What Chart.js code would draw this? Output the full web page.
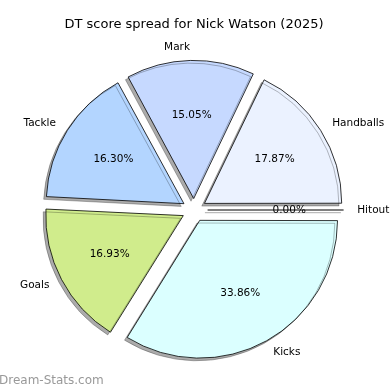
<!DOCTYPE html>
<html>
<head>
<meta charset="utf-8">
<script src="https://cdn.jsdelivr.net/npm/chart.js@4"></script>
<style>
 html, body { margin: 0; padding: 0; background: #fff; }
 canvas { display: block; }
</style>
</head>
<body>
<canvas id="pie" width="390" height="390"></canvas>
<script>
// values in matplotlib order (counter-clockwise from 3 o'clock)
const categories = ["Handballs", "Mark", "Tackle", "Goals", "Kicks", "Hitout"];
const shares = [17.87, 15.05, 16.30, 16.93, 33.86, 0];
const sliceColors = ["#ebf2ff", "#c6d9ff", "#b3d5ff", "#d0ec8c", "#dbffff", "#dbeeff"];

const RADIUS = 136;
const EXPLODE = 0.1 * RADIUS;

// chart.js draws clockwise, so reverse to get the ccw look
const labels = categories.slice().reverse();
const values = shares.slice().reverse();
const colors = sliceColors.slice().reverse();
const total = values.reduce((a, b) => a + b, 0);

// arc offset is shifted by offset/4*(1+fix), undo that so each slice moves EXPLODE px
function sliceOffset(ctx) {
 const circ = (ctx.dataset.data[ctx.dataIndex] / total) * Math.PI * 2;
 const fix = 1 - Math.sin(Math.min(Math.PI, circ));
 return (EXPLODE * 4) / (1 + fix);
}

const pieDecor = {
 id: "pieDecor",
 beforeDatasetsDraw(chart) {
  const ctx = chart.ctx;
  ctx.save();
  ctx.shadowColor = "rgba(0,0,0,0.33)";
  ctx.shadowOffsetX = -2.7;
  ctx.shadowOffsetY = 2.7;
  ctx.shadowBlur = 0;
 },
 afterDatasetsDraw(chart) {
  const ctx = chart.ctx;
  const arcs = chart.getDatasetMeta(0).data;

  // zero slices are skipped by chart.js, matplotlib still strokes them
  arcs.forEach((arc, i) => {
   if (values[i] !== 0) return;
   const a = arc.startAngle;
   ctx.beginPath();
   ctx.moveTo(arc.x + Math.cos(a) * EXPLODE, arc.y + Math.sin(a) * EXPLODE);
   ctx.lineTo(arc.x + Math.cos(a) * (EXPLODE + arc.outerRadius), arc.y + Math.sin(a) * (EXPLODE + arc.outerRadius));
   ctx.strokeStyle = "#000";
   ctx.lineWidth = 1;
   ctx.stroke();
  });
  ctx.restore();

  ctx.save();
  ctx.fillStyle = "#000";
  ctx.font = "10.5px 'DejaVu Sans'";
  ctx.textBaseline = "middle";
  arcs.forEach((arc, i) => {
   const mid = (arc.startAngle + arc.endAngle) / 2;
   const r = arc.outerRadius;
   const cx = arc.x + Math.cos(mid) * EXPLODE;
   const cy = arc.y + Math.sin(mid) * EXPLODE;

   const lx = cx + Math.cos(mid) * r * 1.1;
   const ly = cy + Math.sin(mid) * r * 1.1;
   ctx.textAlign = Math.cos(mid) > 0 ? "left" : "right";
   ctx.fillText(labels[i], lx, ly);

   const px = cx + Math.cos(mid) * r * 0.6;
   const py = cy + Math.sin(mid) * r * 0.6;
   ctx.textAlign = "center";
   ctx.fillText(((values[i] / total) * 100).toFixed(2) + "%", px, py);
  });
  ctx.restore();
 },
 afterDraw(chart) {
  const ctx = chart.ctx;
  ctx.save();
  ctx.fillStyle = "#999";
  ctx.font = "12px 'DejaVu Sans'";
  ctx.textAlign = "left";
  ctx.textBaseline = "alphabetic";
  ctx.fillText("Dream-Stats.com", -1, 384);
  ctx.restore();
 },
};

new Chart(document.getElementById("pie"), {
 type: "pie",
 data: {
  labels,
  datasets: [
   {
    data: values,
    backgroundColor: colors,
    borderColor: "#000",
    borderWidth: 0.8,
    borderJoinStyle: "miter",
    radius: RADIUS,
    offset: sliceOffset,
   },
  ],
 },
 options: {
  responsive: false,
  devicePixelRatio: 1,
  animation: false,
  events: [],
  rotation: 90,
  layout: { padding: { left: 0, right: 2, top: 0, bottom: 12.6 } },
  plugins: {
   legend: { display: false },
   tooltip: { enabled: false },
   title: {
    display: true,
    text: "DT score spread for Nick Watson (2025)",
    color: "#000",
    font: { family: "'DejaVu Sans'", size: 13, weight: "normal" },
    padding: { top: 17, bottom: 10 },
   },
  },
 },
 plugins: [pieDecor],
});
</script>
</body>
</html>
